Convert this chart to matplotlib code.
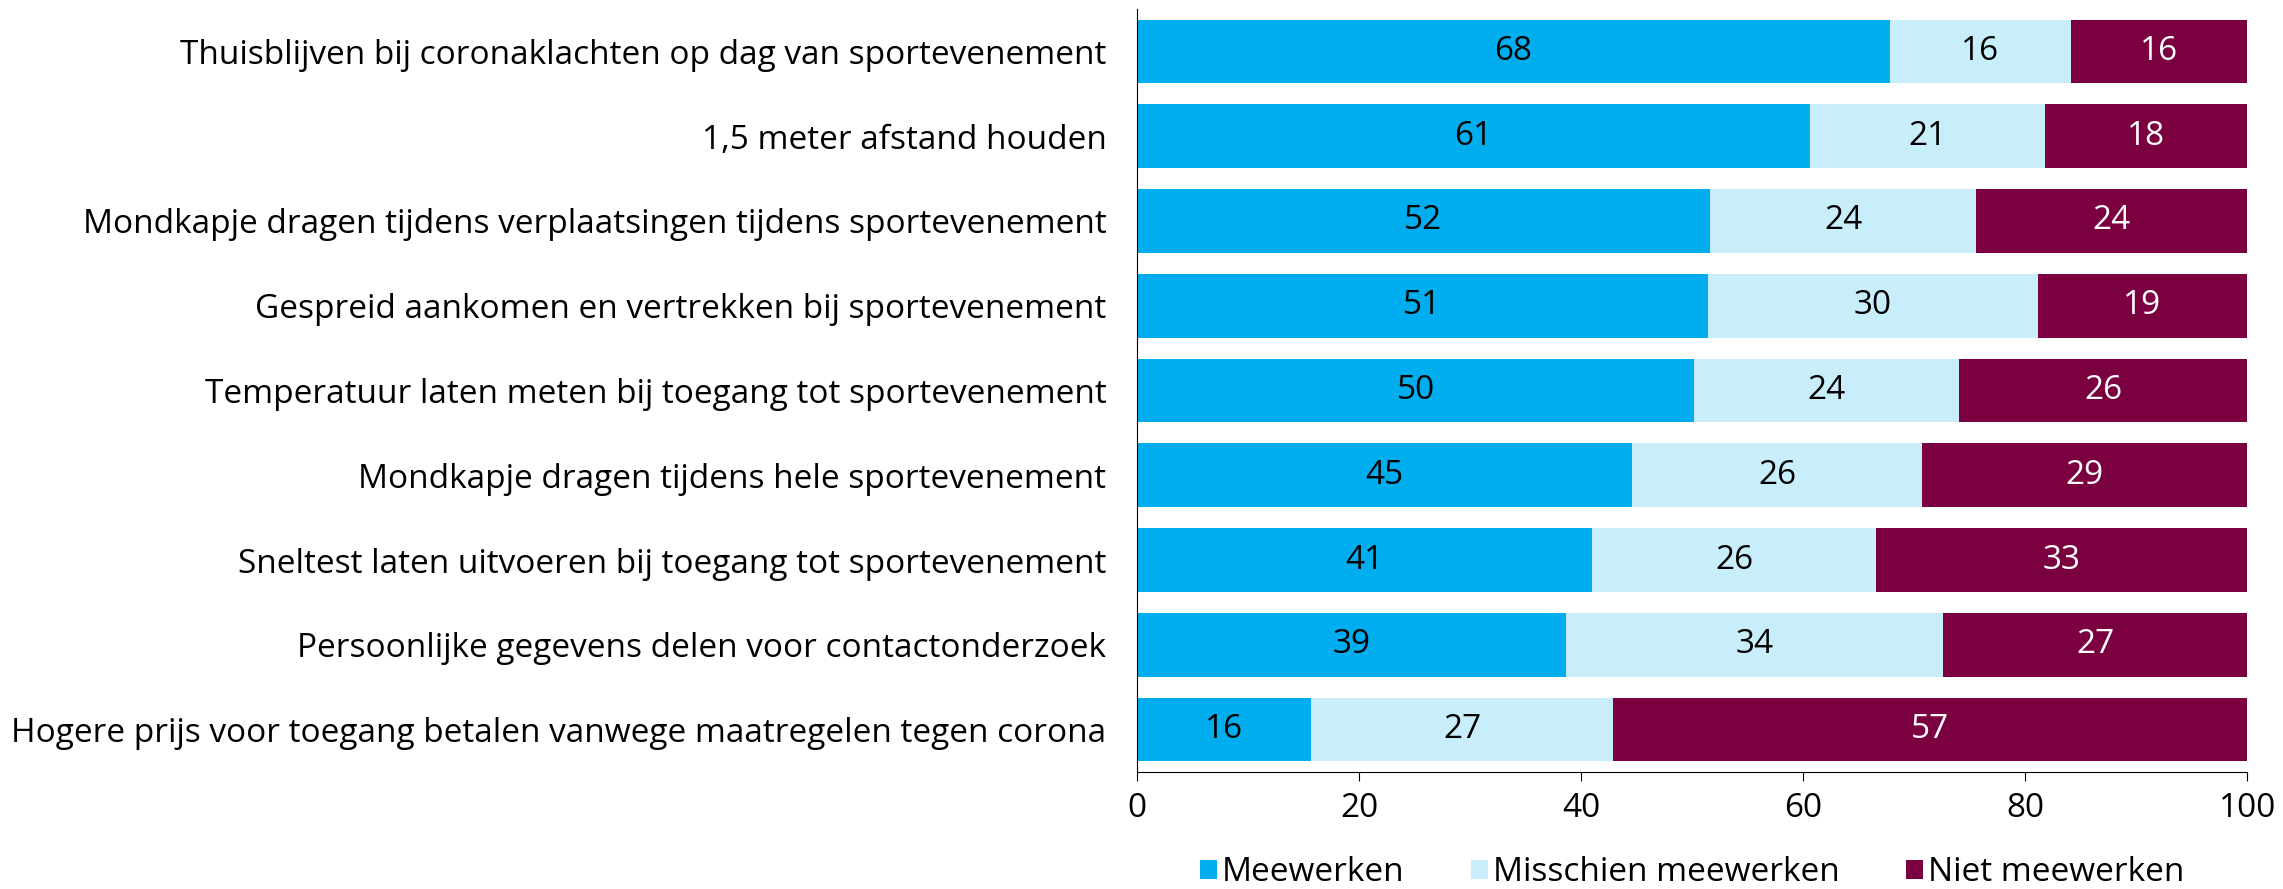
import matplotlib.pyplot as plt
import numpy as np

plt.rcParams['font.family'] = ['Open Sans', 'DejaVu Sans']

# maatregelen (top to bottom)
categories = [
    "Thuisblijven bij coronaklachten op dag van sportevenement",
    "1,5 meter afstand houden",
    "Mondkapje dragen tijdens verplaatsingen tijdens sportevenement",
    "Gespreid aankomen en vertrekken bij sportevenement",
    "Temperatuur laten meten bij toegang tot sportevenement",
    "Mondkapje dragen tijdens hele sportevenement",
    "Sneltest laten uitvoeren bij toegang tot sportevenement",
    "Persoonlijke gegevens delen voor contactonderzoek",
    "Hogere prijs voor toegang betalen vanwege maatregelen tegen corona",
]
meewerken = [67.8, 60.6, 51.6, 51.4, 50.2, 44.6, 41.0, 38.6, 15.7]
misschien = [16.3, 21.2, 24.0, 29.7, 23.8, 26.1, 25.6, 34.0, 27.2]
niet = [15.9, 18.2, 24.4, 18.9, 26.0, 29.3, 33.4, 27.4, 57.1]
series_names = ["Meewerken", "Misschien meewerken", "Niet meewerken"]
colors = ["#00AEEF", "#C8EEFC", "#7A003F"]
text_colors = ["black", "black", "white"]

fig = plt.figure(figsize=(22.83, 8.89), dpi=100)
ax = fig.add_axes([0.498, 0.1316, 0.4864, 0.8583])

y = np.arange(len(categories))
left = np.zeros(len(categories))
for vals, name, col, tcol in zip([meewerken, misschien, niet], series_names, colors, text_colors):
    vals = np.array(vals)
    ax.barh(y, vals, left=left, height=0.75, color=col, label=name)
    for v, l, yy in zip(vals, left, y):
        ax.text(l + v / 2, yy, f"{v:.0f}", ha='center', va='center', fontsize=24, color=tcol)
    left += vals

ax.set_ylim(8.5, -0.5)
ax.set_xlim(0, 100)
ax.set_xticks([0, 20, 40, 60, 80, 100])
ax.set_yticks(y)
ax.set_yticklabels(categories, fontsize=24)
ax.tick_params(axis='y', length=0, pad=22)
ax.tick_params(axis='x', length=6.5, direction='out', labelsize=24, pad=8)
ax.spines['top'].set_visible(False)
ax.spines['right'].set_visible(False)

ax.legend(loc='center', bbox_to_anchor=(0.5, -0.132), ncol=3, frameon=False,
          fontsize=24, handlelength=0.5, handleheight=0.5, handletextpad=0.15,
          columnspacing=2.0, borderaxespad=0, borderpad=0)

plt.savefig("out.png", dpi=100)
